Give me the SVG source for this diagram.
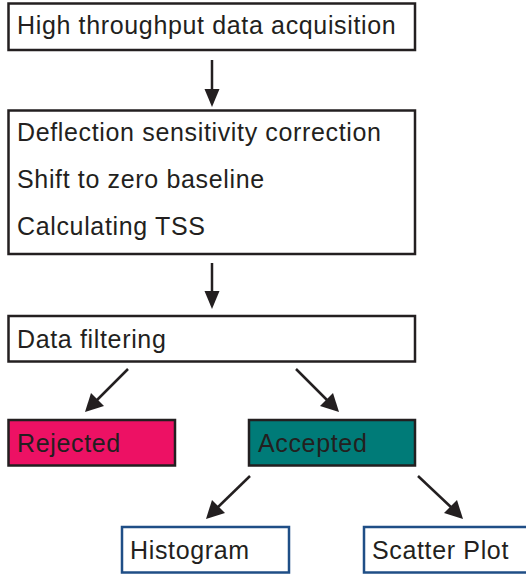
<svg xmlns="http://www.w3.org/2000/svg" width="526" height="576" viewBox="0 0 526 576">
<style>
.box{fill:#fff;stroke:#231f20;stroke-width:2.5}
.blue{fill:#fff;stroke:#1f4e86;stroke-width:2.5}
.t{font-family:"Liberation Sans",Arial,sans-serif;font-size:25px;letter-spacing:0.65px;fill:#231f20}
.ln{stroke:#231f20;stroke-width:2.5;fill:none}
.hd{fill:#231f20}
</style>
<rect width="526" height="576" fill="#fff"/>
<g id="n1"><rect class="box" x="8.5" y="3.5" width="406.5" height="46.5"/><text class="t" x="17" y="34">High throughput data acquisition</text></g>
<g id="n2"><rect class="box" x="8.5" y="110.5" width="406.5" height="143.5"/>
<text class="t" x="17" y="141">Deflection sensitivity correction</text>
<text class="t" x="17" y="188">Shift to zero baseline</text>
<text class="t" x="17" y="235">Calculating TSS</text></g>
<g id="n3"><rect class="box" x="8.5" y="316" width="406.5" height="45.5"/><text class="t" x="17" y="348">Data filtering</text></g>
<g id="n4"><rect class="box" x="8.5" y="420" width="166.5" height="45.5" style="fill:#ed1164"/><text class="t" x="17" y="452">Rejected</text></g>
<g id="n5"><rect class="box" x="249" y="420" width="166" height="45.5" style="fill:#007b78"/><text class="t" x="258" y="452">Accepted</text></g>
<g id="n6"><rect class="blue" x="122" y="527" width="167" height="45.5"/><text class="t" x="130" y="559">Histogram</text></g>
<g id="n7"><rect class="blue" x="364" y="527" width="170" height="45.5"/><text class="t" x="372" y="559">Scatter Plot</text></g>
<g id="connectors">
<path class="ln" d="M212,60 V95"/>
<path class="hd" d="M204.5,89 L212,107 L219.5,89 z"/>
<path class="ln" d="M212,263 V297"/>
<path class="hd" d="M204.5,291 L212,309 L219.5,291 z"/>
<path class="ln" d="M128,369 L95,402"/>
<path class="hd" d="M85,412 L91,393 L104,406 z"/>
<path class="ln" d="M296,369 L329,402"/>
<path class="hd" d="M339,412 L320,406 L333,393 z"/>
<path class="ln" d="M250,476 L216,509"/>
<path class="hd" d="M206,519 L212,500 L225,513 z"/>
<path class="ln" d="M418,476 L453,509"/>
<path class="hd" d="M463,519 L444,513 L457,500 z"/>
</g>
</svg>
